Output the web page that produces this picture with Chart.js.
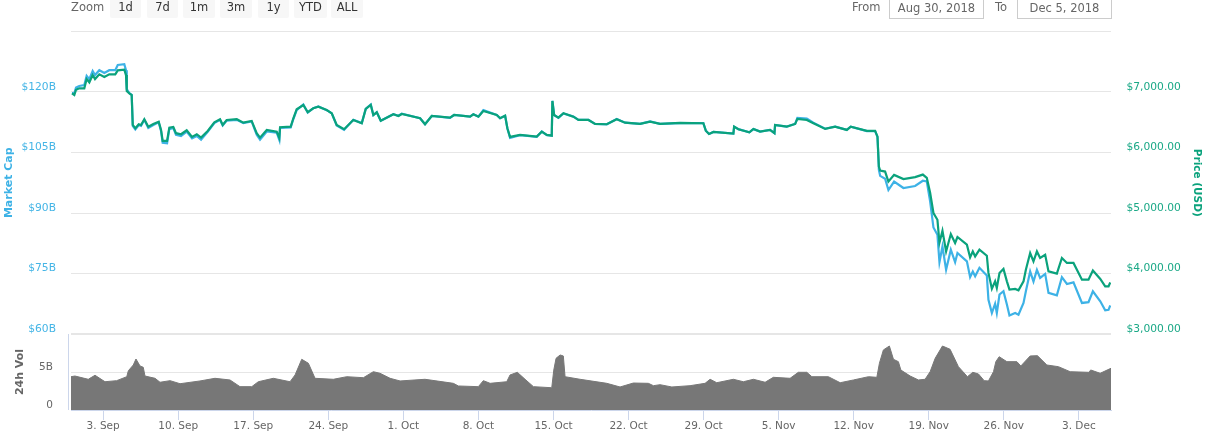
<!DOCTYPE html>
<html><head><meta charset="utf-8">
<script src="https://cdn.jsdelivr.net/npm/chart.js@4/dist/chart.umd.min.js"></script>
<style>
html,body{margin:0;padding:0;background:#fff;width:1229px;height:447px;overflow:hidden;font-family:"DejaVu Sans",sans-serif}
#wrap{position:relative;width:1229px;height:447px}
canvas{position:absolute;left:0;top:0}
.t{position:absolute;top:0;height:14px;line-height:14px;font-size:11.5px;color:#666}
.b{position:absolute;top:-6px;height:24px;line-height:26px;background:#f7f7f7;color:#333;font-size:11.5px;text-align:center;border-radius:2px}
.i{position:absolute;top:-6px;height:23px;line-height:26px;border:1px solid #ccc;color:#666;font-size:11.5px;text-align:center;box-sizing:content-box}
</style></head>
<body><div id="wrap"><canvas id="c" width="1229" height="447"></canvas>
<div class="t" style="left:71px">Zoom</div>
<div class="b" style="left:110px;width:31px">1d</div>
<div class="b" style="left:147px;width:31px">7d</div>
<div class="b" style="left:183px;width:32px">1m</div>
<div class="b" style="left:220px;width:32px">3m</div>
<div class="b" style="left:258px;width:31px">1y</div>
<div class="b" style="left:294px;width:33px">YTD</div>
<div class="b" style="left:331px;width:32px">ALL</div>
<div class="t" style="left:852px">From</div>
<div class="i" style="left:889px;width:93px">Aug 30, 2018</div>
<div class="t" style="left:995px">To</div>
<div class="i" style="left:1017px;width:93px">Dec 5, 2018</div>
</div>
<script>
// days since 31 Aug 2018
const days = [0.09,0.31,0.47,0.77,1.24,1.46,1.71,2.02,2.24,2.64,3.11,3.57,4.13,4.36,4.97,5.13,5.2,5.44,5.66,5.76,6.0,6.32,6.53,6.84,7.21,7.68,8.18,8.4,8.55,8.96,9.17,9.54,9.79,10.26,10.79,11.29,11.73,12.13,12.75,13.37,13.9,14.15,14.52,15.46,16.07,16.85,17.32,17.63,18.26,19.19,19.43,19.5,20.49,20.74,21.05,21.67,22.08,22.6,23.07,23.85,24.32,24.78,25.47,26.33,27.12,27.49,27.96,28.2,28.52,28.89,30.07,30.54,30.85,32.56,33.02,33.65,35.35,35.73,37.22,37.53,38.0,38.46,39.71,40.02,40.49,40.7,40.95,41.88,43.44,43.91,44.38,44.84,44.9,45.06,45.46,45.93,46.86,47.33,48.26,48.88,49.97,50.9,51.68,53.08,54.01,54.94,56.81,58.98,59.21,59.51,59.92,61.78,61.85,62.25,63.27,63.65,64.27,65.2,65.61,65.67,66.76,67.54,67.75,68.63,69.24,70.34,71.27,72.36,72.73,74.23,75.0,75.22,75.35,75.47,75.93,76.24,76.77,77.64,78.73,79.45,79.82,80.13,80.44,80.81,81.0,81.28,81.62,82.06,82.46,82.68,83.56,83.86,84.11,84.33,84.73,85.42,85.57,85.89,86.19,86.35,86.6,86.97,87.29,87.53,88.06,88.37,88.84,89.06,89.46,89.77,90.09,90.39,90.86,91.17,91.95,92.42,92.89,93.5,94.29,94.9,95.31,96.0,96.46,96.77,96.93];
const priceUsd = [6979,6950,7038,7061,7061,7214,7160,7280,7214,7292,7248,7292,7292,7358,7368,7280,7016,6979,6950,6455,6401,6467,6455,6550,6427,6472,6510,6373,6192,6192,6411,6422,6319,6302,6368,6258,6302,6246,6357,6500,6550,6455,6538,6550,6493,6522,6319,6246,6373,6345,6241,6418,6427,6566,6715,6785,6665,6731,6757,6703,6649,6455,6385,6538,6484,6720,6785,6620,6665,6526,6632,6604,6637,6566,6467,6604,6576,6620,6592,6632,6592,6686,6620,6566,6609,6401,6258,6291,6262,6345,6291,6279,6852,6620,6576,6649,6592,6538,6538,6472,6467,6550,6493,6472,6510,6472,6489,6484,6361,6307,6340,6312,6427,6385,6335,6390,6345,6373,6319,6455,6427,6472,6555,6538,6484,6390,6427,6373,6427,6357,6357,6262,5767,5701,5685,5520,5630,5560,5593,5635,5581,5334,5000,4888,4509,4706,4365,4652,4504,4603,4476,4266,4365,4282,4393,4294,4009,3750,3870,3761,4009,4075,3870,3733,3745,3722,3870,4063,4338,4200,4365,4256,4310,4035,3997,4256,4174,4174,3898,3898,4051,3910,3788,3788,3853];
const marketCapB = [119.75,119.75,121.1,121.5,121.7,124.0,123.2,125.2,124.2,125.4,124.7,125.4,125.4,126.7,126.9,125.4,120.7,119.75,119.3,111.6,110.7,111.8,111.6,113.1,111.1,111.8,112.5,110.3,107.4,107.3,110.8,111.1,109.4,109.1,110.2,108.5,109.1,108.2,110.1,112.3,113.1,111.7,112.9,113.1,112.3,112.7,109.4,108.2,110.2,109.9,108.1,111.1,111.2,113.3,115.5,116.9,114.9,116.0,116.4,115.5,114.7,111.7,110.6,113.1,112.3,115.8,116.9,114.3,115.0,112.9,114.5,114.1,114.6,113.5,112.0,114.1,113.6,114.3,113.9,114.5,113.9,115.5,114.3,113.5,114.1,111.0,108.6,109.3,108.9,110.2,109.3,109.2,117.8,114.3,113.6,114.7,113.9,113.1,113.1,112.1,112.0,113.3,112.4,112.1,112.7,112.1,112.3,112.3,110.4,109.6,110.1,109.7,111.4,110.8,110.0,110.8,110.2,110.6,109.8,111.8,111.4,112.1,113.6,113.4,112.4,110.9,111.4,110.6,111.4,110.3,110.3,108.9,100.7,99.2,98.5,95.7,97.8,96.2,96.7,98.0,97.8,92.9,86.4,84.6,77.8,81.7,75.9,80.9,77.8,80.1,78.0,74.1,75.5,74.3,76.4,74.5,68.5,65.2,67.5,65.2,69.8,70.6,67.3,64.6,65.2,64.8,67.7,70.6,75.5,73.0,75.9,73.9,74.9,70.2,69.6,74.1,72.4,72.8,67.7,67.9,70.6,68.1,65.9,66.0,67.1];
const volDays = [0,0.37,1.61,2.24,3.17,4.26,5.2,5.35,5.81,6.06,6.44,6.74,6.9,7.84,8.3,9.24,10.17,12.03,13.43,14.83,15.76,16.86,17.47,18.87,20.43,20.9,21.52,22.14,22.76,24.47,25.72,27.27,28.2,28.82,29.76,30.69,33.02,35.66,36.13,37.99,38.46,39.09,40.64,40.95,41.63,42.35,43.13,44.84,45.03,45.24,45.62,45.92,46.08,47.48,49.97,51.21,52.45,53.85,54.32,54.94,56.04,57.74,59.14,59.61,60.23,61.78,62.71,63.65,64.74,65.51,67.07,67.84,68.63,69.1,70.64,71.74,72.98,74.38,75.16,75.4,75.77,76.33,76.71,77.17,77.4,78.27,79.04,79.66,80.13,80.6,81.28,81.99,82.77,83.61,84.11,84.64,85.17,85.57,86.04,86.26,86.57,87.29,88.22,88.59,89.46,90.14,91.02,92.1,93.19,94.9,95.12,95.99,97];
const volumeB = [4.38,4.47,4.04,4.57,3.72,3.86,4.38,5.17,5.92,6.71,5.79,5.62,4.47,4.17,3.65,3.86,3.46,3.82,4.17,3.95,3.07,3.07,3.72,4.17,3.72,4.61,6.67,6.15,4.17,4.04,4.38,4.25,5.04,4.83,4.17,3.82,4.04,3.51,3.16,3.07,3.86,3.51,3.72,4.61,4.96,4.04,3.07,2.93,5.26,6.8,7.24,7.11,4.38,4.04,3.51,3.03,3.55,3.51,3.2,3.33,3.03,3.2,3.51,4.04,3.59,4.04,3.72,4.04,3.65,4.3,4.17,4.96,4.96,4.38,4.38,3.59,3.95,4.38,4.3,6.15,7.9,8.42,6.67,6.36,5.26,4.47,3.95,4.04,5.04,6.8,8.42,7.99,5.7,4.38,4.96,4.74,3.86,3.82,5.04,6.36,7.01,6.36,6.36,5.79,7.11,7.15,5.92,5.7,5.04,4.96,5.26,4.83,5.49];
const tickDays = [3,10,17,24,31,38,45,52,59,66,73,80,87,94];
const tickLabels = ['3. Sep','10. Sep','17. Sep','24. Sep','1. Oct','8. Oct','15. Oct','22. Oct','29. Oct','5. Nov','12. Nov','19. Nov','26. Nov','3. Dec'];
const capTicks = [60,75,90,105,120,135];
const priceTicks = [3000,4000,5000,6000,7000,8000];

const pair = (xs, ys) => xs.map((x, i) => ({x, y: ys[i]}));
const BLUE = '#3db2e6', GREEN = '#0aa27c', FONT = '"DejaVu Sans", sans-serif';
const volAxisLine = {
  id: 'volAxisLine',
  afterDraw(chart) {
    const s = chart.scales.yVol, c = chart.ctx, x = chart.chartArea.left - 2.5;
    c.save(); c.strokeStyle = '#ccd6eb'; c.lineWidth = 1;
    c.beginPath(); c.moveTo(x, s.top); c.lineTo(x, s.bottom); c.stroke(); c.restore();
  }
};
new Chart(document.getElementById('c'), {
  type: 'line',
  plugins: [volAxisLine],
  data: { datasets: [
    {label:'24h Vol', data: pair(volDays, volumeB), yAxisID:'yVol', borderColor:'#777', borderWidth:1, backgroundColor:'#777', fill:'origin', pointRadius:0, tension:0, order:3},
    {label:'Market Cap', data: pair(days, marketCapB), yAxisID:'yCap', borderColor:BLUE, borderWidth:2.2, pointRadius:0, tension:0, order:2},
    {label:'Price (USD)', data: pair(days, priceUsd), yAxisID:'yPrice', borderColor:GREEN, borderWidth:2.2, pointRadius:0, tension:0, order:1}
  ]},
  options: {
    responsive:false, animation:false, devicePixelRatio:1,
    layout:{padding:{top:31.5,left:0,right:0,bottom:0}},
    plugins:{legend:{display:false}, tooltip:{enabled:false}},
    scales:{
      x:{type:'linear', min:0, max:97,
        afterBuildTicks(s){ s.ticks = tickDays.map(v => ({value:v})); },
        afterFit(s){ s.height = 37; },
        grid:{drawOnChartArea:false, color:'#ccd6eb', tickLength:10},
        border:{color:'#ccd6eb'},
        ticks:{autoSkip:false, maxRotation:0, padding:0, color:'#666', font:{family:FONT,size:10.5,lineHeight:'12px'},
          callback:(v)=> tickLabels[tickDays.indexOf(v)] }
      },
      yVol:{axis:'y', position:'left', stack:'L', stackWeight:76, min:0, max:10,
        afterFit(s){ s.width = 71; },
        afterBuildTicks(s){ s.ticks = [{value:0},{value:5}]; },
        grid:{color:'#e6e6e6', drawTicks:false, lineWidth:c=>c.tick&&c.tick.value===0?0:1},
        border:{display:false},
        title:{display:true, text:'24h Vol', color:'#666', font:{family:FONT,size:11,weight:'bold'}, padding:{top:14,bottom:0}},
        ticks:{padding:18, color:'#666', font:{family:FONT,size:10.5,lineHeight:'10px'}, callback:v=>[v===0?'0':v+'B','']}
      },
      yCap:{axis:'y', position:'left', stack:'L', stackWeight:302.5, min:60, max:135,
        afterFit(s){ s.width = 71; },
        afterBuildTicks(s){ s.ticks = capTicks.map(v => ({value:v})); },
        grid:{color:'#e6e6e6', drawTicks:false, lineWidth:c=>c.tick&&c.tick.value===60?2:1},
        border:{display:false},
        title:{display:true, text:'Market Cap', color:BLUE, font:{family:FONT,size:11,weight:'bold'}, padding:{top:3,bottom:0}},
        ticks:{padding:15, color:'#45b5e6', font:{family:FONT,size:10.7,lineHeight:'10px'}, callback:v=> v===135?'':['$'+v+'B','']}
      },
      yPrice:{axis:'y', position:'right', stack:'R', stackWeight:302.5, min:3000, max:8000,
        afterFit(s){ s.width = 118; },
        afterBuildTicks(s){ s.ticks = priceTicks.map(v => ({value:v})); },
        grid:{drawOnChartArea:false, drawTicks:false},
        border:{display:false},
        title:{display:true, text:'Price (USD)', color:GREEN, font:{family:FONT,size:10.5,weight:'bold'}, padding:{top:26,bottom:0}},
        ticks:{padding:15.5, color:'#1aa886', font:{family:FONT,size:10.7,lineHeight:'10px'},
          callback:v=> v===8000?'':['$'+v.toLocaleString('en-US')+'.00','']}
      },
      yFill:{axis:'y', position:'right', stack:'R', stackWeight:76, min:0, max:10,
        afterFit(s){ s.width = 118; },
        grid:{display:false}, border:{display:false}, ticks:{display:false}
      }
    }
  }
});
</script></body></html>
